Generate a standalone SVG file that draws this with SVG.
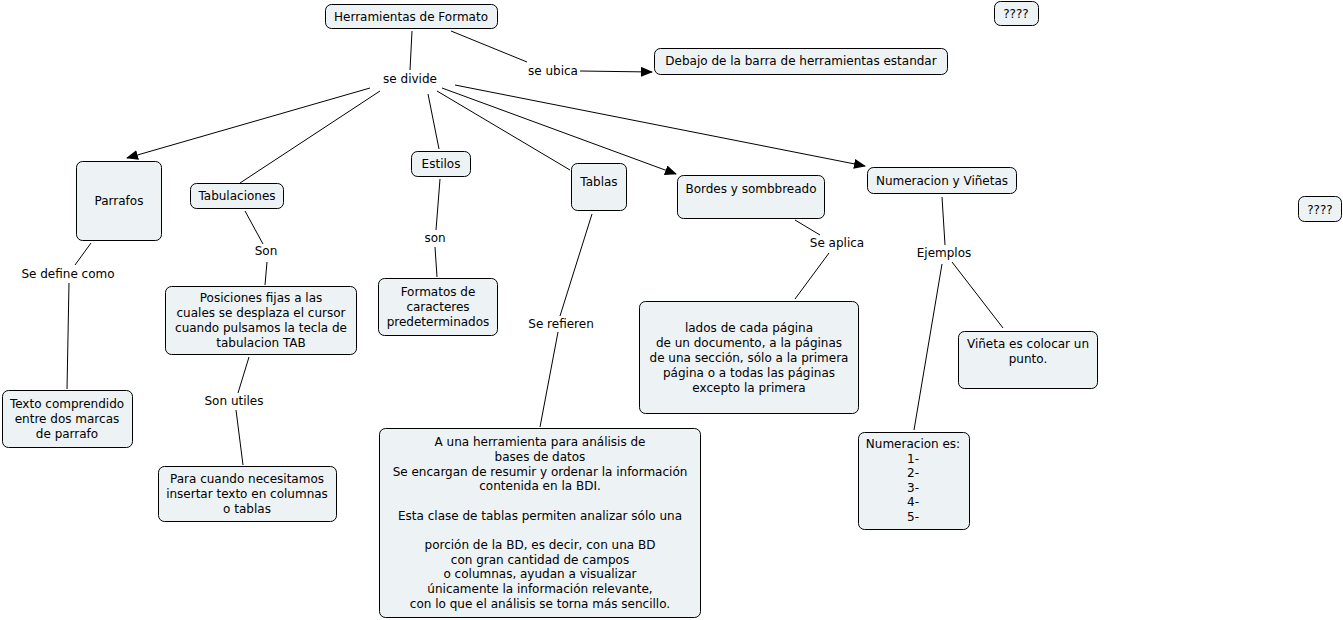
<svg xmlns="http://www.w3.org/2000/svg" width="1343" height="620" viewBox="0 0 1343 620">
<style>
.n rect{fill:#edf3f5;stroke:#000;stroke-width:1}
text{font-family:"DejaVu Sans",Verdana,sans-serif;font-size:12px;fill:#000;text-anchor:middle}
.c line{stroke:#000;stroke-width:1}
.lb rect{fill:#fff}
</style>
<defs>
<marker id="ah" markerWidth="12" markerHeight="10" refX="11" refY="5" orient="auto" markerUnits="userSpaceOnUse">
<path d="M0,0 L12,5 L0,10 Z" fill="#000"/>
</marker>
</defs>
<rect width="1343" height="620" fill="#fff"/>
<g class="c">
<line x1="412" y1="31" x2="410" y2="70"/>
<line x1="451" y1="31" x2="527" y2="62"/>
<line x1="580" y1="71" x2="652" y2="72" marker-end="url(#ah)"/>
<line x1="370" y1="88" x2="127" y2="158" marker-end="url(#ah)"/>
<line x1="380" y1="91" x2="240" y2="183"/>
<line x1="428" y1="94" x2="439" y2="149"/>
<line x1="437" y1="91" x2="570" y2="170"/>
<line x1="442" y1="88" x2="676" y2="174" marker-end="url(#ah)"/>
<line x1="455" y1="85" x2="865" y2="166" marker-end="url(#ah)"/>
<line x1="91" y1="243" x2="75" y2="265"/>
<line x1="69" y1="283" x2="67" y2="389"/>
<line x1="245" y1="211" x2="263" y2="244"/>
<line x1="267" y1="262" x2="265" y2="285"/>
<line x1="249" y1="357" x2="238" y2="393"/>
<line x1="236" y1="410" x2="243" y2="465"/>
<line x1="440" y1="179" x2="436" y2="230"/>
<line x1="435" y1="247" x2="437" y2="277"/>
<line x1="592" y1="214" x2="560" y2="316"/>
<line x1="558" y1="332" x2="540" y2="427"/>
<line x1="795" y1="220" x2="820" y2="235"/>
<line x1="829" y1="253" x2="795" y2="299"/>
<line x1="942" y1="197" x2="945" y2="245"/>
<line x1="952" y1="262" x2="1003" y2="328"/>
<line x1="942" y1="264" x2="914" y2="430"/>
</g>
<g id="labels">
<text x="410" y="83">se divide</text>
<text x="553" y="75">se ubica</text>
<text x="68" y="278">Se define como</text>
<text x="266" y="255">Son</text>
<text x="435" y="242">son</text>
<text x="561" y="328">Se refieren</text>
<text x="837" y="247">Se aplica</text>
<text x="944" y="257">Ejemplos</text>
<text x="234" y="405">Son utiles</text>
</g>
<g id="n1" class="n"><rect x="325.5" y="4.5" width="172" height="24" rx="6"/><text x="411" y="21">Herramientas de Formato</text></g>
<g id="n2" class="n"><rect x="654.5" y="48.5" width="293" height="26" rx="6"/><text x="801" y="65">Debajo de la barra de herramientas estandar</text></g>
<g id="n3" class="n"><rect x="994.5" y="1.5" width="44" height="24" rx="6"/><text x="1016" y="18">????</text></g>
<g id="n4" class="n"><rect x="1298.5" y="196.5" width="43" height="25" rx="6"/><text x="1320" y="214">????</text></g>
<g id="n5" class="n"><rect x="76.5" y="161.5" width="85" height="79" rx="6"/><text x="119" y="205">Parrafos</text></g>
<g id="n6" class="n"><rect x="190.5" y="183.5" width="93" height="25" rx="6"/><text x="237" y="200">Tabulaciones</text></g>
<g id="n7" class="n"><rect x="411.5" y="151.5" width="59" height="25" rx="6"/><text x="441" y="168">Estilos</text></g>
<g id="n8" class="n"><rect x="571.5" y="163.5" width="55" height="47" rx="6"/><text x="599" y="186">Tablas</text></g>
<g id="n9" class="n"><rect x="677.5" y="175.5" width="147" height="43" rx="6"/><text x="751" y="193">Bordes y sombbreado</text></g>
<g id="n10" class="n"><rect x="867.5" y="167.5" width="149" height="26" rx="6"/><text x="942" y="185">Numeracion y Viñetas</text></g>
<g id="n11" class="n"><rect x="2.5" y="390.5" width="130" height="57" rx="6"/><text x="67" y="408">Texto comprendido</text><text x="67" y="423">entre dos marcas</text><text x="67" y="438">de parrafo</text></g>
<g id="n12" class="n"><rect x="165.5" y="286.5" width="191" height="68" rx="6"/><text x="261" y="302">Posiciones fijas a las</text><text x="261" y="317">cuales se desplaza el cursor</text><text x="261" y="332">cuando pulsamos la tecla de</text><text x="261" y="347">tabulacion TAB</text></g>
<g id="n13" class="n"><rect x="378.5" y="278.5" width="119" height="57" rx="6"/><text x="438" y="296">Formatos de</text><text x="438" y="311">caracteres</text><text x="438" y="326">predeterminados</text></g>
<g id="n14" class="n"><rect x="158.5" y="466.5" width="178" height="55" rx="6"/><text x="247" y="483">Para cuando necesitamos</text><text x="247" y="498">insertar texto en columnas</text><text x="247" y="513">o tablas</text></g>
<g id="n15" class="n"><rect x="379.5" y="428.5" width="321" height="189" rx="6"/>
<text x="540" y="446">A una herramienta para análisis de</text>
<text x="540" y="461">bases de datos</text>
<text x="540" y="476">Se encargan de resumir y ordenar la información</text>
<text x="540" y="490">contenida en la BDI.</text>
<text x="540" y="520">Esta clase de tablas permiten analizar sólo una</text>
<text x="540" y="549">porción de la BD, es decir, con una BD</text>
<text x="540" y="564">con gran cantidad de campos</text>
<text x="540" y="578">o columnas, ayudan a visualizar</text>
<text x="540" y="593">únicamente la información relevante,</text>
<text x="540" y="608">con lo que el análisis se torna más sencillo.</text>
</g>
<g id="n16" class="n"><rect x="639.5" y="301.5" width="219" height="112" rx="6"/>
<text x="749" y="332">lados de cada página</text>
<text x="749" y="347">de un documento, a la páginas</text>
<text x="749" y="362">de una sección, sólo a la primera</text>
<text x="749" y="377">página o a todas las páginas</text>
<text x="749" y="392">excepto la primera</text>
</g>
<g id="n17" class="n"><rect x="958.5" y="331.5" width="139" height="57" rx="6"/><text x="1028" y="348">Viñeta es colocar un</text><text x="1028" y="363">punto.</text></g>
<g id="n18" class="n"><rect x="858.5" y="432.5" width="111" height="97" rx="6"/>
<text x="913" y="448">Numeracion es:</text>
<text x="913" y="463">1-</text>
<text x="913" y="477">2-</text>
<text x="913" y="492">3-</text>
<text x="913" y="506">4-</text>
<text x="913" y="521">5-</text>
</g>
</svg>
